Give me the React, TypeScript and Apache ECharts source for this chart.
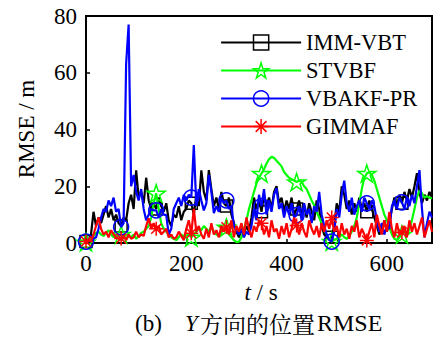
import React, { useEffect, useRef } from "react";
import * as echarts from "echarts";

// sample grid: one value every 5 s from 0 to 690 s
const sampleStep = 5;
const markerEvery = 14; // a marker every 70 s

const seriesNames = ["IMM-VBT", "STVBF", "VBAKF-PR", "GIMMAF"];
const xTickLabels = [0, 200, 400, 600];
const yTickLabels = [0, 20, 40, 60, 80];

const immVbt = [
  0.5, 1, 3, 11, 6, 9, 7, 10, 13, 9, 12, 8, 10, 7,
  6, 9, 8, 14, 17, 12, 25.6, 16, 18, 14, 23, 15, 12, 14,
  12, 16, 13, 11, 14, 8, 6, 10, 9, 13, 8, 11, 12, 15,
  14, 10, 17, 13, 25.6, 18, 15, 25.7, 19, 13, 16, 12, 18, 14,
  13, 16, 10, 7, 4, 2, 5, 3, 6, 4, 9, 16, 12, 15,
  11, 17, 13, 16, 12, 18, 20, 14, 16, 11, 15, 12, 16, 10,
  12, 15, 10, 13, 9, 14, 11, 8, 15, 12, 6, 3, 2, 1.5,
  2, 6, 14, 11, 20, 17, 12, 15, 10, 14, 11, 16, 12, 14,
  11, 15, 12, 9, 6, 3, 5, 8, 4, 7, 12, 16, 13, 17,
  14, 18, 15, 19, 16, 20, 24.6, 18, 14, 17, 15, 18, 16,
];

const stvbf = [
  0.3, 0.8, 1.5, 2.5, 3.5, 4, 3, 2.5, 3.5, 4.5, 3, 2, 3, 2.5,
  3, 2, 1.5, 2.5, 2, 3, 1.5, 2.5, 3.5, 4, 5, 6, 9, 14,
  17.5, 12, 7, 5, 4, 3, 2, 1.5, 1, 2, 3, 2, 2.5, 3,
  2, 3, 4, 5, 4.5, 6, 5, 4, 5.5, 4, 3, 2.5, 4, 5,
  5.5, 3, 2, 1, 0.3, 0.5, 2, 5, 8, 12, 15, 18, 21, 23,
  24.5, 26, 28, 29.5, 30.4, 30, 29, 28, 27, 25, 24, 23, 22.5, 22,
  21.5, 22, 21.5, 20, 19, 17, 15, 13.3, 11, 9, 7, 5, 3, 1.5,
  0.5, 1, 1.5, 2, 3, 2, 1.5, 2.5, 4, 6, 9, 14, 19, 23,
  24.5, 25, 24, 22, 19, 16, 13, 10, 8, 5.6, 3, 1.5, 1, 2,
  3, 4, 3, 5, 8, 12, 16, 18.5, 17.5, 16, 16.5, 16, 15.7,
];

const vbakfPr = [
  0.5, 1, 0.6, 1.5, 2, 5, 9, 12, 11, 15, 13, 16, 11, 12,
  5.6, 7, 63, 77, 20, 24, 18, 15, 19, 12, 8, 10, 12, 11.5,
  11.5, 9, 12, 10, 9.8, 3, 5, 12, 14, 16, 13, 17, 15, 17,
  16, 34.5, 13, 19, 15, 11.5, 14, 24, 18, 10.5, 13, 11, 16, 14,
  15, 12, 13, 6, 4.5, 3, 5, 2, 4, 3, 6, 12, 8, 17,
  13, 19, 10, 15, 11, 17, 19.3, 12, 14, 9, 13, 10, 14, 9,
  9.8, 13, 8, 14, 10, 12, 7, 13, 11, 18, 10, 6, 3, 1,
  0.5, 4, 12, 9, 17, 22, 14, 11, 16, 10, 13, 15, 11, 16,
  14, 12, 15, 13, 8, 4, 7, 3, 6, 5, 13, 15, 12, 16,
  14.3, 12, 16, 13, 17, 14, 20, 25.7, 12, 2, 7, 11, 9,
];

const gimmaf = [
  0.5, 1, 0.8, 3, 6, 9, 5, 3, 4, 2, 4.5, 3, 2, 1.5,
  1.6, 2.5, 1, 3, 1.5, 2, 4, 2, 3, 2.5, 6, 8.7, 5, 7,
  5, 6, 3, 4, 5, 2, 3, 1.5, 2, 4, 2.5, 1, 5, 8,
  3.4, 12, 4, 6, 3, 1.5, 5, 2, 7, 3, 4.5, 2, 6, 4,
  5.6, 3, 8, 2, 6, 4, 7, 3, 9, 5, 2, 6, 4, 8,
  7, 3, 6, 2, 8, 4, 5, 1.5, 6, 3, 7, 2, 5, 9,
  6.2, 3, 7, 4, 2, 8, 5, 3, 6, 2, 7, 4, 8, 5,
  9, 4, 6, 2, 7, 3, 5, 1.5, 6, 4, 8, 2, 5, 3,
  0.9, 4, 7, 2, 10, 6, 3, 8, 4, 11, 5, 2, 7, 3,
  3.7, 6, 2, 8, 4, 7, 3, 6, 9, 2, 5, 8, 4,
];

const STAR =
  "path://M0,-1L0.2245,-0.309L0.951,-0.309L0.363,0.118L0.588,0.809L0,0.382L-0.588,0.809L-0.363,0.118L-0.951,-0.309L-0.2245,-0.309Z";
const ASTERISK =
  "path://M0,-1L0,1M-1,0L1,0M-0.707,-0.707L0.707,0.707M-0.707,0.707L0.707,-0.707";

const SERIF = "Liberation Serif, Times New Roman, serif";
const CJK = "Noto Serif CJK SC, Noto Sans CJK SC, sans-serif";

const styles = [
  { color: "#000000", symbol: "rect", size: 12 },
  { color: "#00ff00", symbol: STAR, size: 18 },
  { color: "#0000ff", symbol: "circle", size: 15 },
  { color: "#ff0000", symbol: ASTERISK, size: 14 },
];

function toData(vals: number[]) {
  return vals.map((v, i) => {
    const item: any = { value: [i * sampleStep, v] };
    if (i % markerEvery !== 0) item.symbol = "none";
    return item;
  });
}

export default function App() {
  const ref = useRef<HTMLDivElement>(null);
  useEffect(() => {
    if (!ref.current) return;
    const chart = echarts.init(ref.current, undefined, { renderer: "svg" });
    const all = [immVbt, stvbf, vbakfPr, gimmaf];
    const series = all.map((vals, k) => ({
      name: seriesNames[k],
      type: "line",
      data: toData(vals),
      symbol: styles[k].symbol,
      symbolSize: styles[k].size,
      symbolKeepAspect: true,
      showSymbol: true,
      lineStyle: { color: styles[k].color, width: 2.2 },
      itemStyle: { color: "rgba(0,0,0,0)", borderColor: styles[k].color, borderWidth: 1.5 },
      emphasis: { disabled: true },
      z: 2 + k,
    }));
    chart.setOption({
      animation: false,
      grid: {
        left: 86,
        right: 2,
        top: 16,
        bottom: 95,
        show: true,
        borderColor: "#000",
        borderWidth: 2,
        backgroundColor: "#fff",
      },
      xAxis: {
        type: "value",
        min: 0,
        max: 690,
        interval: 200,
        axisLine: { show: true, lineStyle: { color: "#000", width: 2 } },
        axisTick: { show: true, inside: true, length: 4, lineStyle: { color: "#000", width: 1.5 } },
        splitLine: { show: false },
        axisLabel: {
          margin: 9,
          fontSize: 23,
          fontFamily: SERIF,
          color: "#000",
          formatter: (v: number) => (xTickLabels.includes(v) ? String(v) : ""),
        },
      },
      yAxis: {
        type: "value",
        min: 0,
        max: 80,
        interval: 20,
        axisLine: { show: true, lineStyle: { color: "#000", width: 2 } },
        axisTick: { show: true, inside: true, length: 4, lineStyle: { color: "#000", width: 1.5 } },
        splitLine: { show: false },
        axisLabel: {
          margin: 9,
          fontSize: 23,
          fontFamily: SERIF,
          color: "#000",
          formatter: (v: number) => (yTickLabels.includes(v) ? String(v) : ""),
        },
      },
      legend: {
        orient: "vertical",
        left: 215,
        top: 26,
        padding: 5,
        itemWidth: 80,
        itemHeight: 19,
        itemGap: 5,
        textStyle: { fontSize: 22.5, fontFamily: SERIF, color: "#000" },
        data: seriesNames.map((n, k) => ({
          name: n,
          itemStyle: { color: "rgba(0,0,0,0)", borderColor: styles[k].color, borderWidth: 1.5 },
          lineStyle: { color: styles[k].color, width: 2.2 },
        })),
      },
      graphic: [
        {
          type: "text",
          x: 26,
          y: 129,
          rotation: Math.PI / 2,
          style: {
            text: "RMSE / m",
            fontSize: 23,
            fontFamily: SERIF,
            fill: "#000",
            align: "center",
            verticalAlign: "middle",
          },
        },
        {
          type: "text",
          x: 261,
          y: 292,
          style: {
            text: "{i|t} / s",
            align: "center",
            verticalAlign: "middle",
            rich: {
              i: { fontSize: 23, fontFamily: SERIF, fontStyle: "italic", fill: "#000" },
            },
            fontSize: 23,
            fontFamily: SERIF,
            fill: "#000",
          },
        },
        {
          type: "text",
          x: 135,
          y: 323,
          style: { text: "(b)", fontSize: 23, fontFamily: SERIF, fill: "#000", verticalAlign: "middle" },
        },
        {
          type: "text",
          x: 185,
          y: 323,
          style: {
            text: "Y",
            fontSize: 23,
            fontFamily: SERIF,
            fontStyle: "italic",
            fill: "#000",
            verticalAlign: "middle",
          },
        },
        {
          type: "text",
          x: 200,
          y: 323,
          style: { text: "方向的位置", fontSize: 23, fontFamily: CJK, fill: "#000", verticalAlign: "middle" },
        },
        {
          type: "text",
          x: 317,
          y: 323,
          style: { text: "RMSE", fontSize: 24, fontFamily: SERIF, fill: "#000", verticalAlign: "middle" },
        },
      ],
      series,
    });
    return () => chart.dispose();
  }, []);
  return (
    <div
      ref={ref}
      style={{ position: "fixed", left: 0, top: 0, width: 435, height: 338, background: "#fff" }}
    />
  );
}
